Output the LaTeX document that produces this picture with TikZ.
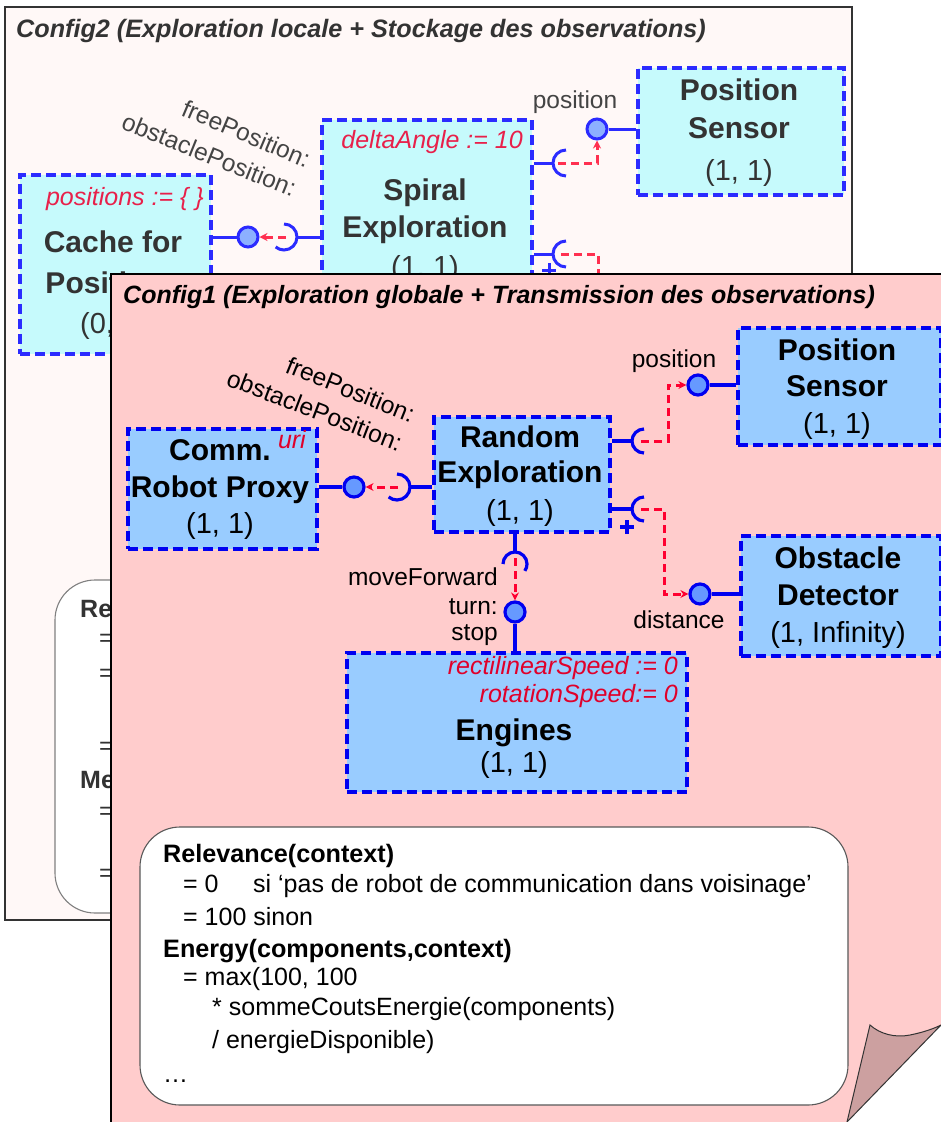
\documentclass[tikz,border=0pt]{standalone}
\usepackage{fontspec}
\setmainfont{Liberation Sans}
\usetikzlibrary{arrows.meta,calc}

\definecolor{cOneBg}{HTML}{FFCCCC}
\definecolor{cTwoBg}{HTML}{FFF8F7}
\definecolor{cOneFill}{HTML}{99CCFF}
\definecolor{cTwoFill}{HTML}{C6FAFC}
\definecolor{cOneBlue}{HTML}{0000F0}
\definecolor{cTwoBlue}{HTML}{2B2BFF}
\definecolor{cOneRed}{HTML}{FF0030}
\definecolor{cTwoRed}{HTML}{FF3050}
\definecolor{cOneRedTxt}{HTML}{E0002A}
\definecolor{cTwoRedTxt}{HTML}{E8204A}
\definecolor{cOnePort}{HTML}{6699FF}
\definecolor{cTwoPort}{HTML}{8CB0FF}
\definecolor{cTwoText}{HTML}{333333}
\definecolor{cTwoLabel}{HTML}{444444}
\definecolor{curlFill}{HTML}{CCA0A0}

\begin{document}
\begin{tikzpicture}[x=1pt,y=-1pt,
  frameTwo/.style={draw=cTwoText, line width=1.2pt, fill=cTwoBg},
  frameOne/.style={draw=black, line width=1.3pt, fill=cOneBg},
  memoTwo/.style={draw=gray, line width=1.1pt, fill=white, rounded corners=40pt},
  memoOne/.style={draw=black!65, line width=1.1pt, fill=white, rounded corners=40pt},
  boxTwo/.style={rectangle, inner sep=0pt, anchor=north west, draw=cTwoBlue, fill=cTwoFill,
    line width=3.8pt, dash pattern=on 10pt off 5pt},
  boxOne/.style={rectangle, inner sep=0pt, anchor=north west, draw=cOneBlue, fill=cOneFill,
    line width=3.8pt, dash pattern=on 10pt off 5pt},
  titleTwo/.style={anchor=base west, inner sep=0pt, text=cTwoText,
    font={\fontsize{25.2}{30}\selectfont\bfseries\itshape}},
  titleOne/.style={anchor=base west, inner sep=0pt, text=black,
    font={\fontsize{25}{30}\selectfont\bfseries\itshape}},
  nameTwo/.style={anchor=base, inner sep=0pt, text=cTwoText, font={\fontsize{30}{35}\selectfont\bfseries}},
  nameOne/.style={anchor=base, inner sep=0pt, text=black, font={\fontsize{30}{35}\selectfont\bfseries}},
  multTwo/.style={anchor=base, inner sep=0pt, text=cTwoText, font={\fontsize{29}{34}\selectfont}},
  multOne/.style={anchor=base, inner sep=0pt, text=black, font={\fontsize{29}{34}\selectfont}},
  attrTwo/.style={anchor=base east, inner sep=0pt, text=cTwoRedTxt, font={\fontsize{25}{30}\selectfont\itshape}},
  attrOne/.style={anchor=base east, inner sep=0pt, text=cOneRedTxt, font={\fontsize{25}{30}\selectfont\itshape}},
  lblTwo/.style={inner sep=0pt, text=cTwoLabel, font={\fontsize{24.5}{29}\selectfont}},
  lblOne/.style={inner sep=0pt, text=black, font={\fontsize{24.5}{29}\selectfont}},
  memoTxtTwo/.style={anchor=base west, inner sep=0pt, text=cTwoText, font={\fontsize{25}{30}\selectfont}},
  memoTxt/.style={anchor=base west, inner sep=0pt, text=black, font={\fontsize{25}{30}\selectfont}},
  memoHead/.style={memoTxt, font={\fontsize{25.2}{30}\selectfont\bfseries}},
  portTwo/.style={circle, inner sep=0pt, minimum size=20pt, draw=cTwoBlue, fill=cTwoPort, line width=3pt},
  portOne/.style={circle, inner sep=0pt, minimum size=20pt, draw=cOneBlue, fill=cOnePort, line width=3.2pt},
  wireTwo/.style={draw=cTwoBlue, line width=3pt},
  wireOne/.style={draw=cOneBlue, line width=3.2pt},
  sigTwo/.style={draw=cTwoRed, line width=3pt, dash pattern=on 8pt off 5pt, -{Stealth[length=8pt,width=8pt]}},
  sigOne/.style={draw=cOneRed, line width=3pt, dash pattern=on 8pt off 5pt, -{Stealth[length=8pt,width=8pt]}},
  sigTwoOpen/.style={draw=cTwoRed, line width=3pt, dash pattern=on 8pt off 5pt},
  curl/.style={draw=black!80, line width=1pt, fill=curlFill}
]
\useasboundingbox (0,0) rectangle (941,1122);
\clip (0,0) rectangle (941,1122);

% ---------------- Config2 (back sheet) ----------------
\path[frameTwo] (5,7) rectangle (852,920);
\node[titleTwo] (titleTwo) at (16,37) {Config2 (Exploration locale + Stockage des observations)};

% memo of the back sheet
\path[memoTwo] (55,580) rectangle (700,913);
\node[memoTxtTwo, font={\fontsize{25}{30}\selectfont\bfseries}] (mTwoA) at (80,617) {Re};
\node[memoTxtTwo] (mTwoB) at (99,646) {=};
\node[memoTxtTwo] (mTwoC) at (99,681) {=};
\node[memoTxtTwo] (mTwoD) at (99,754) {=};
\node[memoTxtTwo, font={\fontsize{25}{30}\selectfont\bfseries}] (mTwoE) at (80,788) {Me};
\node[memoTxtTwo] (mTwoF) at (99,819) {=};
\node[memoTxtTwo] (mTwoG) at (99,881) {=};

% components
\node[boxTwo, minimum width=191pt, minimum height=179pt] (cache) at (18,173) {};
\node[attrTwo] (cacheAttr) at (204,205) {positions := \{ \}};
\node[nameTwo] (cacheN1) at (113,252) {Cache for};
\node[nameTwo] (cacheN2) at (113,293) {Positions};
\node[multTwo, anchor=base west] (cacheM) at (80,333) {(0,};

\node[boxTwo, minimum width=210pt, minimum height=175pt] (spiral) at (320,118) {};
\node[attrTwo] (spiralAttr) at (523,148) {deltaAngle := 10};
\node[nameTwo] (spiralN1) at (425,200) {Spiral};
\node[nameTwo] (spiralN2) at (425,237) {Exploration};
\node[multTwo] (spiralM) at (425,276) {(1, 1)};

\node[boxTwo, minimum width=206pt, minimum height=127pt] (psTwo) at (636,66) {};
\node[nameTwo] (psTwoN1) at (739,100) {Position};
\node[nameTwo] (psTwoN2) at (739,138) {Sensor};
\node[multTwo] (psTwoM) at (739,180) {(1, 1)};

% Cache <- Spiral
\node[portTwo] (pcTwo) at (248,237) {};
\coordinate (skTwoA) at (284,237);
\draw[wireTwo] (cache.east |- pcTwo) -- (pcTwo);
\draw[wireTwo] ($(skTwoA)+(0,-13)$) arc[start angle=-90, end angle=130, radius=13];
\draw[wireTwo] ($(skTwoA)+(13,0)$) -- (spiral.west |- skTwoA);
\draw[sigTwo] ($(skTwoA)+(2,0)$) -- (pcTwo.east);
\node[lblTwo, anchor=base west, rotate=-23] (freeTwo) at (180,115) {freePosition:};
\node[lblTwo, anchor=base west, rotate=-22] (obstTwo) at (120,128) {obstaclePosition:};

% Spiral -> Position Sensor
\node[portTwo] (ppTwo) at (597,129) {};
\coordinate (skTwoB) at (566,163);
\draw[wireTwo] (ppTwo) -- (psTwo.west |- ppTwo);
\draw[wireTwo] (spiral.east |- skTwoB) -- ($(skTwoB)+(-13,0)$);
\draw[wireTwo] ($(skTwoB)+(0,13)$) arc[start angle=90, end angle=270, radius=13];
\draw[sigTwo] ($(skTwoB)+(-8,0)$) -| (ppTwo.south);
\node[lblTwo, anchor=base] (posTwo) at (575,108) {position};

% Spiral -> (hidden) second provider
\coordinate (skTwoC) at (566,254);
\draw[wireTwo] (spiral.east |- skTwoC) -- ($(skTwoC)+(-13,0)$);
\draw[wireTwo] ($(skTwoC)+(0,13)$) arc[start angle=90, end angle=270, radius=13];
\draw[sigTwoOpen] ($(skTwoC)+(-5,0)$) -| (598,300);
\draw[wireTwo] (542,270) -- (556,270) (549,263) -- (549,290);

% ---------------- Config1 (front sheet) ----------------
\path[frameOne] (111,274) rectangle (960,1140);
\node[titleOne] (titleOne) at (123,303) {Config1 (Exploration globale + Transmission des observations)};

% components
\node[boxOne, minimum width=189pt, minimum height=120pt] (comm) at (126,427) {};
\node[attrOne] (commAttr) at (306,448) {uri};
\node[nameOne] (commN1) at (220,460) {Comm.};
\node[nameOne] (commN2) at (220,497) {Robot Proxy};
\node[multOne] (commM) at (220,533) {(1, 1)};

\node[boxOne, minimum width=176pt, minimum height=115pt] (rand) at (432,415) {};
\node[nameOne] (randN1) at (520,447) {Random};
\node[nameOne] (randN2) at (520,482) {Exploration};
\node[multOne] (randM) at (520,520) {(1, 1)};

\node[boxOne, minimum width=203pt, minimum height=117pt] (psOne) at (736,326) {};
\node[nameOne] (psOneN1) at (837,360) {Position};
\node[nameOne] (psOneN2) at (837,396) {Sensor};
\node[multOne] (psOneM) at (837,433) {(1, 1)};

\node[boxOne, minimum width=200pt, minimum height=120pt] (obst) at (739,534) {};
\node[nameOne] (obstN1) at (838,568) {Obstacle};
\node[nameOne] (obstN2) at (838,605) {Detector};
\node[multOne] (obstM) at (838,642) {(1, Infinity)};

\node[boxOne, minimum width=340pt, minimum height=139pt] (eng) at (345,651) {};
\node[attrOne] (engA1) at (678,674) {rectilinearSpeed := 0};
\node[attrOne] (engA2) at (678,702) {rotationSpeed:= 0};
\node[nameOne] (engN) at (514,740) {Engines};
\node[multOne] (engM) at (514,772) {(1, 1)};

% Comm. Robot Proxy <- Random Exploration
\node[portOne] (pcOne) at (354,487) {};
\coordinate (skOneA) at (397,487);
\draw[wireOne] (comm.east |- pcOne) -- (pcOne);
\draw[wireOne] ($(skOneA)+(0,-13)$) arc[start angle=-90, end angle=130, radius=13];
\draw[wireOne] ($(skOneA)+(13,0)$) -- (rand.west |- skOneA);
\draw[sigOne] ($(skOneA)+(1,0)$) -- (pcOne.east);
\node[lblOne, anchor=base west, rotate=-22] (freeOne) at (284,372) {freePosition:};
\node[lblOne, anchor=base west, rotate=-21] (obstOne) at (225,385) {obstaclePosition:};

% Random Exploration -> Position Sensor
\node[portOne] (ppOne) at (698,385) {};
\coordinate (skOneB) at (644,441);
\draw[wireOne] (ppOne) -- (psOne.west |- ppOne);
\draw[wireOne] (rand.east |- skOneB) -- ($(skOneB)+(-12,0)$);
\draw[wireOne] ($(skOneB)+(0,12)$) arc[start angle=90, end angle=270, radius=12];
\draw[sigOne] ($(skOneB)+(-3,0)$) -- (668,441) -- (668,385) -- (ppOne.west);
\node[lblOne, anchor=base] (posOne) at (674,367) {position};

% Random Exploration -> Obstacle Detector
\node[portOne] (poOne) at (700,594) {};
\coordinate (skOneC) at (644,509);
\draw[wireOne] (poOne) -- (obst.west |- poOne);
\draw[wireOne] (rand.east |- skOneC) -- ($(skOneC)+(-12,0)$);
\draw[wireOne] ($(skOneC)+(0,12)$) arc[start angle=90, end angle=270, radius=12];
\draw[sigOne] ($(skOneC)+(-3,0)$) -- (664,509) -- (664,594) -- (poOne.west);
\draw[wireOne] (620,527) -- (634,527) (627,520) -- (627,534);
\node[lblOne, anchor=base] (distOne) at (679,628) {distance};

% Random Exploration -> Engines
\node[portOne] (peOne) at (515,612) {};
\coordinate (skOneD) at (515,564);
\draw[wireOne] (rand.south -| skOneD) -- ($(skOneD)+(0,-12)$);
\draw[wireOne] ($(skOneD)+(-12,0)$) arc[start angle=180, end angle=395, radius=12];
\draw[sigOne] ($(skOneD)+(0,-6)$) -- (peOne.north);
\draw[wireOne] (peOne) -- (peOne |- eng.north);
\node[lblOne, anchor=base east] (mvOne) at (498,585) {moveForward};
\node[lblOne, anchor=base east] (turnOne) at (498,614) {turn:};
\node[lblOne, anchor=base east] (stopOne) at (498,640) {stop};

% memo of the front sheet
\path[memoOne] (140,827) rectangle (848,1105);
\node[memoHead] (mA) at (163,862) {Relevance(context)};
\node[memoTxt] (mB) at (183,892) {= 0};
\node[memoTxt] (mB2) at (253,892) {si ‘pas de robot de communication dans voisinage’};
\node[memoTxt] (mC) at (183,925) {= 100 sinon};
\node[memoHead] (mD) at (163,957) {Energy(components,context)};
\node[memoTxt] (mE) at (183,985) {= max(100, 100};
\node[memoTxt] (mF) at (212,1015) {* sommeCoutsEnergie(components)};
\node[memoTxt] (mG) at (212,1048) {/ energieDisponible)};
\node[memoTxt] (mH) at (163,1082) {\dots};

% turned-up corner of the front sheet
\fill[white] (847,1122) -- (941,1025) -- (960,1020) -- (960,1140) -- (840,1140) -- cycle;
\path[curl] (870,1025) .. controls (880,1034) and (895,1038) .. (910,1035)
  .. controls (925,1032) and (935,1028) .. (941,1025) -- (847,1122) -- cycle;
\end{tikzpicture}
\end{document}
